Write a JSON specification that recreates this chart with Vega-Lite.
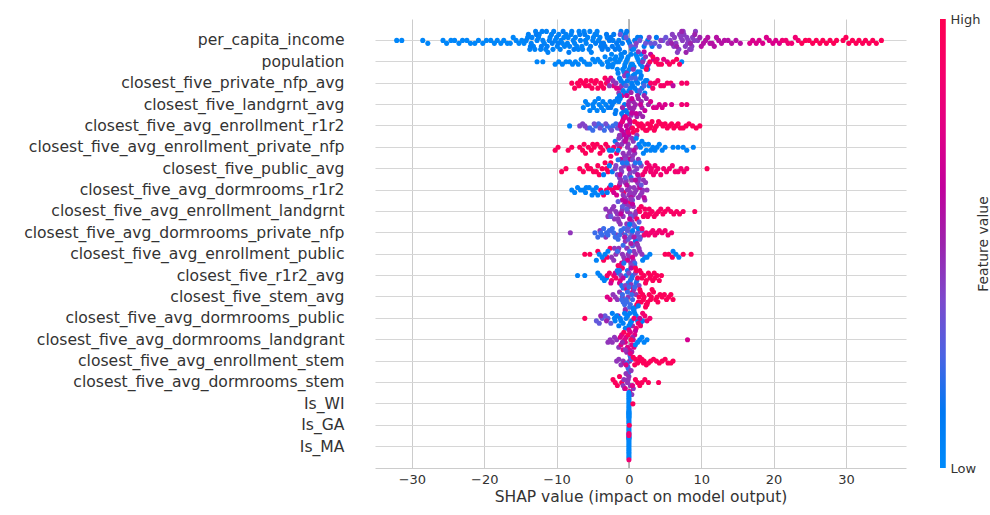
{
"$schema": "https://vega.github.io/schema/vega-lite/v6.json",
"width": 531, "height": 449,
"autosize": {"type": "none"},
"padding": {"left": 375, "top": 19, "right": 84, "bottom": 47},
"background": "white",
"config": {"view": {"stroke": null}, "font": "DejaVu Sans"},
"resolve": {"scale": {"y": "independent"}},
"layer": [
{"data": {"values": [{"z": 0}]},
 "mark": {"type": "rule", "color": "#999999", "strokeWidth": 1.2},
 "encoding": {"x": {"field": "z", "type": "quantitative", "scale": {"domain": [-35.1, 38.3], "nice": false, "zero": false}}}},
{"data": {"values": [
{"f":"per_capita_income","c":0.03,"x":[-32.1,-31.4,-28.5,-27.8,-25.7,-25.2,-24.6,-24.1,-23.5,-23.0,-22.4,-21.9,-21.3,-20.8,-20.2,-19.7,-19.1,-18.6,-18.2,-17.7,-17.3,-16.8,-16.4,-16.0,-15.6,-15.2,-14.8,-14.5]},
{"f":"per_capita_income","c":0.06,"x":[-14.2,-14.0,-13.9,-13.7,-13.5,-13.4,-13.2,-13.0,-12.9,-12.7,-12.5,-12.4,-12.2,-12.0,-11.9,-11.7,-11.5,-11.4,-11.2,-11.0,-10.9,-10.7,-10.5,-10.4,-10.2,-10.0,-9.9,-9.7,-9.5,-9.4,-9.2,-9.0,-8.9,-8.7,-8.5,-8.4,-8.2,-8.0,-7.9,-7.7,-7.5,-7.4,-7.2,-7.0,-6.9,-6.7,-6.5,-6.4,-6.2,-6.0,-5.9,-5.7,-5.5,-5.4,-5.2,-5.0,-4.9,-4.7,-4.5,-4.4,-4.2,-4.0]},
{"f":"per_capita_income","c":0.09,"x":[-13.6,-12.8,-12.1,-11.3,-10.6,-9.8,-9.1,-8.3,-7.6,-6.8,-6.1,-5.3,-4.6,-3.8,-3.0,-2.2,-1.4,-0.6]},
{"f":"per_capita_income","c":0.12,"x":[-3.9,-3.7,-3.5,-3.3,-3.1,-2.9,-2.7,-2.5,-2.3,-2.1,-1.9,-1.7,-1.5,-1.3,-1.1,-0.9,-0.7,-0.5,-0.3,-0.1,0.1,0.4,0.8,1.2,1.6,2.1,2.6,3.2,3.8]},
{"f":"per_capita_income","c":0.32,"x":[-1.2,-0.4,0.3,0.9,1.5,2.3,3.0,3.6,4.2,4.7,5.1]},
{"f":"per_capita_income","c":0.42,"x":[5.4,5.7,6.0,6.2,6.5,6.7,7.0,7.2,7.4,7.6,7.8,8.0,8.2,8.4,8.6,8.8,9.0,9.2,9.5,1.0,2.8,4.4,6.3,6.9,7.5,8.1,8.7]},
{"f":"per_capita_income","c":0.5,"x":[5.9,6.6,7.3,7.9,8.5,9.1,9.8]},
{"f":"per_capita_income","c":0.58,"x":[10.0,10.3,10.6,10.9,11.2,11.5,11.8,12.1,12.4,12.8,13.2,13.7,14.2,14.8,15.4]},
{"f":"per_capita_income","c":0.72,"x":[16.7,17.1,17.6,18.0,18.5,19.0,19.4,19.9,20.3,20.8]},
{"f":"per_capita_income","c":0.85,"x":[21.2,21.7,22.0,22.5,23.0,23.4]},
{"f":"per_capita_income","c":0.97,"x":[23.9,24.4,24.9,25.4,25.9,26.4,26.8,27.3,27.8,28.3,28.7,29.6,30.0,30.4,30.9,31.4,31.8,32.3,32.7,33.2,33.7,34.2,34.9]},
{"f":"population","c":0.04,"x":[-12.7,-11.9,-10.2,-9.7,-9.2,-8.7,-8.2,-7.8,-7.4,-7.0,-6.6,-6.2,-5.8,-5.4,-5.0,-4.7,-4.3,-4.0,-3.7,-3.3,-3.0,-2.8,-2.6,-2.4,-2.2,-2.0,-1.8,-1.6,-1.4,-1.2,-1.0,-0.85,-0.7,-0.55,-0.4,-0.25,-0.1,0.05,0.2,0.35,0.5,0.65,0.8,0.95,1.1,1.25,1.4,1.55,1.7,1.85,2.0,2.6,7.3]},
{"f":"population","c":0.06,"x":[-2.9,-2.3,-1.7,-1.1,-0.6,-0.2,0.3,0.7,1.2,1.6]},
{"f":"population","c":0.45,"x":[0.6,1.3,1.9,2.3,2.7]},
{"f":"population","c":0.62,"x":[2.1,2.5,3.0,3.4]},
{"f":"population","c":0.78,"x":[3.9,4.8,5.3]},
{"f":"population","c":0.95,"x":[2.4,2.9,3.3,3.7,4.1,4.5,5.6,6.1,6.6,7.0]},
{"f":"closest_five_private_nfp_avg","c":0.96,"x":[-7.9,-7.5,-7.1,-6.9,-6.7,-6.3,-6.0,-5.9,-5.5,-5.2,-5.1,-4.7,-4.5,-4.3,-3.9,-3.8,-3.5,-3.3,-3.1]},
{"f":"closest_five_private_nfp_avg","c":0.75,"x":[-2.9,-2.5,-2.1,-1.7,-1.3,-0.9]},
{"f":"closest_five_private_nfp_avg","c":0.45,"x":[-2.7,-2.2,-1.8,-1.4,-1.0,-0.6,-0.3]},
{"f":"closest_five_private_nfp_avg","c":0.08,"x":[-1.5,-1.1,-0.8,-0.5,-0.2,0.0,0.2,0.4,0.6,0.8,1.0,1.2,1.4,1.6,1.8,2.0,2.2,2.5,2.8]},
{"f":"closest_five_private_nfp_avg","c":0.1,"x":[-1.3,-0.7,-0.1,0.5,1.1,1.7,2.3]},
{"f":"closest_five_private_nfp_avg","c":0.25,"x":[-0.4,0.3,0.9,1.5,2.1]},
{"f":"closest_five_private_nfp_avg","c":0.9,"x":[3.0,3.3,3.6,4.0,4.4,4.8,5.3,5.8,7.3,8.0]},
{"f":"closest_five_private_nfp_avg","c":0.6,"x":[6.1]},
{"f":"closest_five_landgrnt_avg","c":0.05,"x":[-6.3,-6.0,-5.7,-5.4,-5.0,-4.9,-4.7,-4.4,-4.2,-4.1,-3.8,-3.6,-3.5,-3.2]},
{"f":"closest_five_landgrnt_avg","c":0.1,"x":[-2.9,-2.6,-2.3,-2.0,-1.8,-1.6,-1.4,-1.2,-1.0,-0.8,-0.6,-0.4,-0.2]},
{"f":"closest_five_landgrnt_avg","c":0.12,"x":[-2.5,-1.9,-1.3,-0.7]},
{"f":"closest_five_landgrnt_avg","c":0.5,"x":[-0.9,-0.5,-0.1,0.1,0.3,0.5,0.7,0.9,1.1,1.3,1.5,1.7,1.9,2.1,2.4,2.7,0.0,0.6,1.2,1.8]},
{"f":"closest_five_landgrnt_avg","c":0.65,"x":[-0.3,0.4,1.0,1.6,2.2]},
{"f":"closest_five_landgrnt_avg","c":0.72,"x":[3.0,3.4,3.8,4.2,4.6,5.0,5.9]},
{"f":"closest_five_landgrnt_avg","c":0.85,"x":[7.3,8.0]},
{"f":"closest_five_avg_enrollment_r1r2","c":0.05,"x":[-8.2]},
{"f":"closest_five_avg_enrollment_r1r2","c":0.4,"x":[-6.8,-6.4,-6.1,-5.8]},
{"f":"closest_five_avg_enrollment_r1r2","c":0.2,"x":[-5.4,-5.0,-4.6,-4.2,-3.8,-3.4,-3.0,-2.6,-2.2,-1.8,-1.4]},
{"f":"closest_five_avg_enrollment_r1r2","c":0.35,"x":[-4.8,-4.0,-3.2,-2.4,-1.6]},
{"f":"closest_five_avg_enrollment_r1r2","c":0.45,"x":[-1.1,-0.7,-0.3,0.1,0.3]},
{"f":"closest_five_avg_enrollment_r1r2","c":0.62,"x":[-1.2,-1.0,-0.8,-0.6,-0.4,-0.2,0.0,0.2,0.4,-1.15,-0.75,-0.35,0.05,0.35]},
{"f":"closest_five_avg_enrollment_r1r2","c":0.78,"x":[-0.9,-0.5,-0.1]},
{"f":"closest_five_avg_enrollment_r1r2","c":0.96,"x":[0.5,0.6,0.8,1.1,1.2,1.4,1.7,1.9,2.0,2.3,2.5,2.6,2.9,3.0,3.2,3.5,3.6,3.8,4.1,4.4,4.7,5.0,5.3,5.6,5.9,6.2,6.5,6.8,7.1,7.5,7.9,8.3,8.8,9.3,9.8]},
{"f":"closest_five_avg_enrollment_private_nfp","c":0.96,"x":[-10.2,-9.8,-8.4,-7.9,-6.8,-6.4,-6.2,-6.0,-5.6,-5.2,-5.0,-4.8,-4.4,-4.0,-3.9,-3.6,-3.2]},
{"f":"closest_five_avg_enrollment_private_nfp","c":0.9,"x":[-2.9,-2.5,-2.1,-1.7,-1.3]},
{"f":"closest_five_avg_enrollment_private_nfp","c":0.1,"x":[-2.7,-2.3,-1.9,-1.5]},
{"f":"closest_five_avg_enrollment_private_nfp","c":0.45,"x":[-1.6,-1.3,-1.0,-0.8,-0.6,-0.4,-0.2,0.0,0.2,0.4,0.6,0.8,1.0,1.3,-1.4,-0.7,-0.1,0.5,1.1]},
{"f":"closest_five_avg_enrollment_private_nfp","c":0.6,"x":[-1.1,-0.5,0.1,0.7]},
{"f":"closest_five_avg_enrollment_private_nfp","c":0.05,"x":[1.0,1.4,1.6,1.8,2.0,2.2,2.4,2.7,3.0,3.3,3.6,3.9,4.2,4.6,5.0,6.1,6.8,7.5,8.0,8.9]},
{"f":"closest_five_public_avg","c":0.96,"x":[-9.3,-8.7,-6.8,-6.3,-5.8,-5.6,-5.3,-4.9,-4.5,-4.3,-4.1,-3.7,-3.3,-3.1,-2.9,-2.5,10.8]},
{"f":"closest_five_public_avg","c":0.1,"x":[-3.5,-2.7,-2.3]},
{"f":"closest_five_public_avg","c":0.4,"x":[-1.9,-1.6,-1.3,-1.0,-0.7,-0.4,-0.1,0.2,0.5,0.8,1.1,1.4,1.7,-1.8,-1.1,-0.5,0.1,0.7,1.3]},
{"f":"closest_five_public_avg","c":0.15,"x":[-1.5,-0.9,-0.3,0.3,0.9,1.5]},
{"f":"closest_five_public_avg","c":0.6,"x":[-1.2,0.0,1.2]},
{"f":"closest_five_public_avg","c":0.86,"x":[1.9,2.2,2.4,2.5,2.8,3.0,3.1,3.4,3.6,3.7,4.0,4.4,4.8,5.2,5.6,6.0,6.4,6.8,7.2,7.6,8.0]},
{"f":"closest_five_avg_dormrooms_r1r2","c":0.05,"x":[-7.9,-7.5,-7.1,-6.7,-6.3,-6.0,-5.9,-5.5,-5.1,-5.0,-4.7,-4.5,-4.3]},
{"f":"closest_five_avg_dormrooms_r1r2","c":0.92,"x":[-3.9,-3.5,-3.1,-2.7,-2.3,-1.9,-1.5,-0.7,0.1]},
{"f":"closest_five_avg_dormrooms_r1r2","c":0.1,"x":[-3.7,-3.0,-2.5]},
{"f":"closest_five_avg_dormrooms_r1r2","c":0.7,"x":[-2.1,-1.7,-1.3]},
{"f":"closest_five_avg_dormrooms_r1r2","c":0.45,"x":[-1.2,-1.0,-0.8,-0.6,-0.4,-0.2,0.0,0.2,0.4,0.6,0.8,1.0,1.2,1.4,1.6,1.8,2.0,2.2,2.5,-1.1,-0.5,0.1,0.7,1.3,1.9,2.3]},
{"f":"closest_five_avg_dormrooms_r1r2","c":0.6,"x":[-0.9,-0.3,0.3,0.9,1.5,2.1]},
{"f":"closest_five_avg_dormrooms_r1r2","c":0.3,"x":[-0.5,0.5,1.7]},
{"f":"closest_five_avg_enrollment_landgrnt","c":0.45,"x":[-3.2,-2.9,-2.6,-2.3,-2.0,-1.8,-1.6,-1.4,-1.2,-1.0,-0.8,-0.6,-0.4,-0.2,0.0,0.2,0.4,0.6,0.8,1.0,-2.7,-2.1,-1.5,-0.9,-0.3,0.3,0.9]},
{"f":"closest_five_avg_enrollment_landgrnt","c":0.3,"x":[-2.5,-1.5,-0.9,-0.3,0.3]},
{"f":"closest_five_avg_enrollment_landgrnt","c":0.62,"x":[-1.1,-0.5,0.1,0.5]},
{"f":"closest_five_avg_enrollment_landgrnt","c":0.92,"x":[1.1,1.4,1.5,1.7,2.0,2.2,2.3,2.6,2.8,2.9,3.2,3.5,3.8,4.1,4.4,4.7,5.0,5.4,5.8,6.2,6.6,7.0,7.5,9.1]},
{"f":"closest_five_avg_dormrooms_private_nfp","c":0.45,"x":[-8.1,-4.0,-3.2,-2.5,-1.7,-1.0,-0.5]},
{"f":"closest_five_avg_dormrooms_private_nfp","c":0.2,"x":[-4.7,-4.3,-3.9,-3.5,-3.1,-2.7,-2.3,-1.9,-1.5,-1.1,-0.7,-0.3,-3.7,-2.9,-2.1,-1.3,-0.5]},
{"f":"closest_five_avg_dormrooms_private_nfp","c":0.3,"x":[-0.2,0.0,0.2,0.4,0.6,0.8,1.0,1.2,1.4,1.6,1.8,-0.1,0.5,1.1,1.5]},
{"f":"closest_five_avg_dormrooms_private_nfp","c":0.1,"x":[0.1,0.5,0.9,1.3]},
{"f":"closest_five_avg_dormrooms_private_nfp","c":0.55,"x":[-0.6,0.3,0.7,1.1]},
{"f":"closest_five_avg_dormrooms_private_nfp","c":0.86,"x":[1.8,2.1,2.4,2.7,3.0,3.3,3.6,3.9,4.2,4.6,5.0,5.4,5.9]},
{"f":"closest_five_avg_enrollment_public","c":0.96,"x":[-6.1,-5.4,-4.3,-3.5,-3.0,-2.6,5.0,5.5,6.0,7.5,8.6]},
{"f":"closest_five_avg_enrollment_public","c":0.05,"x":[-4.5,-4.1,-3.7,-3.3,-2.9,1.9,2.2,2.5,2.9,6.1,6.5,6.9]},
{"f":"closest_five_avg_enrollment_public","c":0.45,"x":[-2.4,-2.1,-1.8,-1.5,-1.2,-0.9,-0.6,-0.3,0.0,0.3,0.6,0.9,1.2,1.5,1.8,-2.0,-1.4,-0.7,-0.1,0.7,1.4]},
{"f":"closest_five_avg_enrollment_public","c":0.2,"x":[-1.6,-0.8,0.1,0.8]},
{"f":"closest_five_avg_enrollment_public","c":0.7,"x":[-1.0,-0.2,0.5]},
{"f":"closest_five_r1r2_avg","c":0.05,"x":[-7.1,-6.1,-4.3,-4.0,-3.7,-3.4,-3.1]},
{"f":"closest_five_r1r2_avg","c":0.9,"x":[-3.0,-2.7,-2.4,-2.1,-1.8,-1.5,-1.2,-0.9]},
{"f":"closest_five_r1r2_avg","c":0.7,"x":[-2.5,-1.9,-1.3]},
{"f":"closest_five_r1r2_avg","c":0.15,"x":[-1.6,-1.3,-1.0,-0.7,-0.4,-0.1,0.2,0.5,0.8,1.1,-1.4,-0.8,-0.2,0.4,1.0]},
{"f":"closest_five_r1r2_avg","c":0.4,"x":[-1.1,-0.5,0.0,0.4,0.9,1.4]},
{"f":"closest_five_r1r2_avg","c":0.6,"x":[-0.8,0.3]},
{"f":"closest_five_r1r2_avg","c":0.96,"x":[0.6,0.9,1.0,1.2,1.5,1.7,1.8,2.1,2.3,2.4,2.7,2.9,3.0,3.3,3.5,3.6,3.9,4.2,4.5]},
{"f":"closest_five_stem_avg","c":0.75,"x":[-3.0,-2.6,-0.3,0.5]},
{"f":"closest_five_stem_avg","c":0.45,"x":[-2.2,-1.9,-1.6,-1.3,-0.9,-0.5,-0.1,0.3,0.7,1.0]},
{"f":"closest_five_stem_avg","c":0.2,"x":[-1.0,-0.8,-0.6,-0.4,-0.2,0.0,0.2,0.4,0.6,0.8,-0.9,-0.3,0.1,0.5,0.9]},
{"f":"closest_five_stem_avg","c":0.96,"x":[1.1,1.3,1.4,1.5,1.7,1.9,2.0,2.1,2.3,2.5,2.6,2.8,3.1,3.2,3.4,3.7,3.9,4.0,4.3,4.6,4.9,5.2,5.5,5.8,6.1,1.6,2.4,3.0]},
{"f":"closest_five_avg_dormrooms_public","c":0.96,"x":[-6.1]},
{"f":"closest_five_avg_dormrooms_public","c":0.3,"x":[-4.5,-4.1,-3.7,-3.3,-2.9,-2.5]},
{"f":"closest_five_avg_dormrooms_public","c":0.5,"x":[-3.9,-3.1,-1.5,-0.5,0.5]},
{"f":"closest_five_avg_dormrooms_public","c":0.08,"x":[-2.3,-2.0,-1.7,-1.4,-1.1,-0.8,-0.6,-0.4,-0.2,0.0,0.2,0.4,0.6,0.8,1.0,1.3,1.6,1.9,-1.9,-1.2,-0.5,0.1,0.7,1.2]},
{"f":"closest_five_avg_dormrooms_public","c":0.86,"x":[0.7,1.0,1.3,1.6,1.9,2.2,2.5,2.9]},
{"f":"closest_five_avg_dormrooms_public","c":0.65,"x":[0.9,1.5]},
{"f":"closest_five_avg_dormrooms_landgrant","c":0.45,"x":[-2.9,-2.6,-2.3,-2.0,-1.7,-1.4]},
{"f":"closest_five_avg_dormrooms_landgrant","c":0.75,"x":[-1.2,-1.0,-0.8,-0.6,-0.4,-0.2,0.0,0.2,0.4,0.6,0.8,-1.1,-0.5,0.1,0.7]},
{"f":"closest_five_avg_dormrooms_landgrant","c":0.5,"x":[-0.9,-0.3,0.5]},
{"f":"closest_five_avg_dormrooms_landgrant","c":0.95,"x":[-0.7,-0.1,0.3]},
{"f":"closest_five_avg_dormrooms_landgrant","c":0.05,"x":[0.9,1.2,1.5,1.8,2.1,2.5]},
{"f":"closest_five_avg_dormrooms_landgrant","c":0.7,"x":[8.1]},
{"f":"closest_five_avg_enrollment_stem","c":0.45,"x":[-1.7,-1.4,-1.1,-0.8,-0.5]},
{"f":"closest_five_avg_enrollment_stem","c":0.55,"x":[-0.6,-0.2,0.1,0.4]},
{"f":"closest_five_avg_enrollment_stem","c":0.2,"x":[-0.3,-0.15,0.0,0.15,0.3,-0.1,0.05,0.25]},
{"f":"closest_five_avg_enrollment_stem","c":0.75,"x":[-0.4,0.2]},
{"f":"closest_five_avg_enrollment_stem","c":0.96,"x":[0.6,0.8,0.9,1.2,1.4,1.5,1.8,2.0,2.1,2.4,2.7,3.0,3.4,3.8,4.2,4.6,5.0,5.4,5.8,6.1]},
{"f":"closest_five_avg_dormrooms_stem","c":0.95,"x":[-2.2,-1.9,-1.6,-1.3,-1.0,0.9,1.2,1.5,1.8,2.2,2.7,4.1]},
{"f":"closest_five_avg_dormrooms_stem","c":0.45,"x":[-0.8,-0.6,-0.4,-0.2,0.0,0.2,0.4,0.6,-0.7,-0.1,0.3]},
{"f":"closest_five_avg_dormrooms_stem","c":0.75,"x":[-0.5,0.1,0.5]},
{"f":"Is_WI","c":0.03,"x":[0,0,0,0,0,0,0,0,0,0,0,0,0,0]},
{"f":"Is_WI","c":0.95,"x":[0.55]},
{"f":"Is_GA","c":0.03,"x":[0,0,0,0,0,0,0,0,0,0,0,0,0,0]},
{"f":"Is_GA","c":0.95,"x":[0.05]},
{"f":"Is_MA","c":0.03,"x":[0,0,0,0,0,0,0,0,0,0,0,0]},
{"f":"Is_MA","c":0.85,"x":[0,0,0]}
]},
 "transform": [
  {"flatten": ["x"]},
  {"calculate": "floor(datum.x + 0.5)", "as": "bin"},
  {"calculate": "(abs(datum.x) * 1000 + datum.c * 313) % 17", "as": "h"},
  {"window": [{"op": "row_number", "as": "layer"}], "groupby": ["f", "bin"], "sort": [{"field": "h"}]},
  {"calculate": "ceil((datum.layer - 1) / 2) * ((datum.layer - 1) % 2 == 1 ? 1 : -1)", "as": "ys"},
  {"joinaggregate": [{"op": "max", "field": "ys", "as": "m"}], "groupby": ["f"]},
  {"calculate": "datum.ys * 0.42 / (datum.m + 1)", "as": "off"}
 ],
 "mark": {"type": "circle", "size": 26, "opacity": 1},
 "encoding": {
  "x": {"field": "x", "type": "quantitative",
        "scale": {"domain": [-35.1, 38.3], "nice": false, "zero": false},
        "axis": {"title": "SHAP value (impact on model output)", "values": [-30,-20,-10,0,10,20,30],
                 "grid": true, "gridColor": "#cccccc", "gridWidth": 1, "ticks": false,
                 "domain": true, "domainColor": "#cccccc", "domainWidth": 1,
                 "labelFont": "DejaVu Sans", "labelFontSize": 13, "labelColor": "#333333", "labelPadding": 5,
                 "titleFont": "DejaVu Sans", "titleFontSize": 15.5, "titleFontWeight": "normal", "titleColor": "#333333", "titlePadding": 3}},
  "y": {"field": "f", "type": "nominal",
        "sort": ["per_capita_income","population","closest_five_private_nfp_avg","closest_five_landgrnt_avg","closest_five_avg_enrollment_r1r2","closest_five_avg_enrollment_private_nfp","closest_five_public_avg","closest_five_avg_dormrooms_r1r2","closest_five_avg_enrollment_landgrnt","closest_five_avg_dormrooms_private_nfp","closest_five_avg_enrollment_public","closest_five_r1r2_avg","closest_five_stem_avg","closest_five_avg_dormrooms_public","closest_five_avg_dormrooms_landgrant","closest_five_avg_enrollment_stem","closest_five_avg_dormrooms_stem","Is_WI","Is_GA","Is_MA"],
        "scale": {"paddingInner": 0, "paddingOuter": 0.5},
        "axis": {"orient": "left", "title": null, "ticks": false, "domain": false, "grid": true, "gridColor": "#d6d6d6", "gridWidth": 1.2,
                 "bandPosition": 0.5, "labelFont": "DejaVu Sans", "labelFontSize": 15.6, "labelColor": "#333333",
                 "labelPadding": 31, "labelLimit": 400}},
  "yOffset": {"field": "off", "type": "quantitative", "scale": {"domain": [-0.3, 0.3]}},
  "color": {"field": "c", "type": "quantitative",
            "scale": {"domain": [0,0.125,0.25,0.375,0.5,0.625,0.75,0.875,1],
                      "range": ["#008bfb","#0078f3","#4b63e3","#7d49cc","#9c23ad","#c2009c","#e00086","#f5006c","#ff0051"]},
            "legend": null}
 }},
{"data": {"values": [{"lo": 0, "hi": 1}]},
 "mark": {"type": "rect", "clip": false,
          "fill": {"gradient": "linear", "x1": 0, "y1": 1, "x2": 0, "y2": 0,
                   "stops": [{"offset": 0, "color": "#008bfb"}, {"offset": 0.125, "color": "#0078f3"}, {"offset": 0.25, "color": "#4b63e3"},
                             {"offset": 0.375, "color": "#7d49cc"}, {"offset": 0.5, "color": "#9c23ad"}, {"offset": 0.625, "color": "#c2009c"},
                             {"offset": 0.75, "color": "#e00086"}, {"offset": 0.875, "color": "#f5006c"}, {"offset": 1, "color": "#ff0051"}]}},
 "encoding": {
  "x": {"datum": 43.0, "type": "quantitative"},
  "x2": {"datum": 43.8},
  "y": {"field": "lo", "type": "quantitative", "scale": {"domain": [0, 1], "nice": false, "zero": false},
        "axis": {"orient": "right", "values": [0, 1], "labelExpr": "datum.value >= 0.5 ? 'High' : 'Low'",
                 "ticks": false, "domain": false, "grid": false, "offset": 39, "labelPadding": 5,
                 "labelFont": "DejaVu Sans", "labelFontSize": 13, "labelColor": "#333333", "labelBaseline": "middle",
                 "labelFlush": false, "labelOverlap": false,
                 "title": "Feature value", "titleAngle": 270, "titleBaseline": "top", "titleFont": "DejaVu Sans",
                 "titleFontSize": 14, "titleFontWeight": "normal", "titleColor": "#333333", "titlePadding": -3}},
  "y2": {"field": "hi"}
 }}
]
}
